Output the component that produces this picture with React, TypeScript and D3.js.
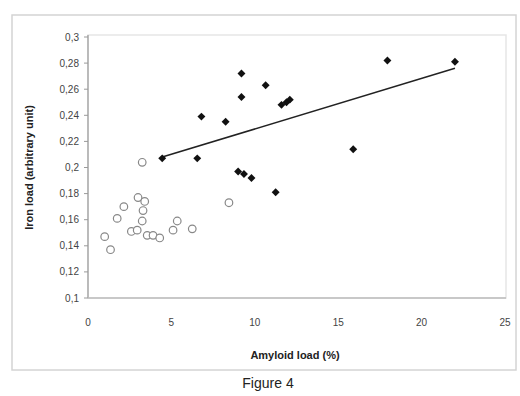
import React from 'react';
import * as d3 from 'd3';

// filled points (black)
const filledX = [4.45, 6.8, 6.55, 8.25, 9.2, 9.2, 9.0, 9.35, 9.8, 10.65, 11.6, 11.9, 12.1, 17.95, 22.0, 15.9, 11.25];
const filledY = [0.207, 0.239, 0.207, 0.235, 0.272, 0.254, 0.197, 0.195, 0.192, 0.263, 0.248, 0.25, 0.252, 0.282, 0.281, 0.214, 0.181];

// open points (grey)
const openX = [1.0, 1.35, 1.75, 2.15, 2.6, 3.0, 3.4, 3.3, 3.25, 2.95, 3.55, 3.9, 4.3, 5.1, 5.35, 6.25, 8.45, 3.25];
const openY = [0.147, 0.137, 0.161, 0.17, 0.151, 0.177, 0.174, 0.167, 0.159, 0.152, 0.148, 0.148, 0.146, 0.152, 0.159, 0.153, 0.173, 0.204];

// trend line through filled group
const trendX = [4.45, 22.0];
const trendY = [0.208, 0.276];

const xTicks = [0, 5, 10, 15, 20, 25];
const yTicks = [0.1, 0.12, 0.14, 0.16, 0.18, 0.2, 0.22, 0.24, 0.26, 0.28, 0.3];

const fmtY = (v: number) => String(+v.toFixed(2)).replace('.', ',');

export default function App() {
  const W = 520;
  const H = 396;
  const left = 88;
  const right = 505;
  const top = 37;
  const bottom = 298;
  const x = d3.scaleLinear().domain([0, 25]).range([left, right]);
  const y = d3.scaleLinear().domain([0.1, 0.3]).range([bottom, top]);
  const line = d3
    .line<number>()
    .x((d, i) => x(trendX[i]))
    .y(d => y(d));
  const dot = d3.symbol(d3.symbolDiamond2, 40)() || '';
  const font = 'Liberation Sans, Arial, sans-serif';

  return (
    <svg
      width={W}
      height={H}
      style={{ position: 'absolute', left: 0, top: 0, background: '#fff' }}
      fontFamily={font}
    >
      <rect x={12} y={15} width={504} height={355} fill="#fff" stroke="#d4d4d4" strokeWidth={1.5} />
      {/* plot frame */}
      <rect x={left} y={top - 2} width={right - left + 1} height={bottom - top + 2} fill="none" stroke="#e6e6e6" strokeWidth={1.5} />
      <line x1={left} x2={left} y1={top - 2} y2={bottom} stroke="#9a9a9a" strokeWidth={1.2} />
      <line x1={left} x2={right + 1} y1={bottom} y2={bottom} stroke="#bdbdbd" strokeWidth={1.5} />

      {yTicks.map(t => (
        <g key={t}>
          <line x1={left - 4} x2={left} y1={y(t)} y2={y(t)} stroke="#9a9a9a" />
          <text x={left - 9} y={y(t)} dy="0.35em" textAnchor="end" fontSize={10} fill="#444">
            {fmtY(t)}
          </text>
        </g>
      ))}
      {xTicks.map(t => (
        <text key={t} x={x(t)} y={326} textAnchor="middle" fontSize={10} fill="#444">
          {t}
        </text>
      ))}

      <text x={295} y={359} textAnchor="middle" fontSize={11} fontWeight="bold" fill="#222">
        Amyloid load (%)
      </text>
      <text
        transform={`translate(33, ${(top + bottom) / 2}) rotate(-90)`}
        textAnchor="middle"
        fontSize={11}
        fontWeight="bold"
        fill="#222"
      >
        Iron load (arbitrary unit)
      </text>
      <text x={268} y={388} textAnchor="middle" fontSize={14} fill="#222">
        Figure 4
      </text>

      <path d={line(trendY) || ''} fill="none" stroke="#222" strokeWidth={1.5} />

      {openX.map((v, i) => (
        <circle key={'o' + i} cx={x(v)} cy={y(openY[i])} r={3.8} fill="#fff" stroke="#888" strokeWidth={1.2} />
      ))}
      {filledX.map((v, i) => (
        <path key={'f' + i} d={dot} transform={`translate(${x(v)},${y(filledY[i])})`} fill="#111" />
      ))}
    </svg>
  );
}
